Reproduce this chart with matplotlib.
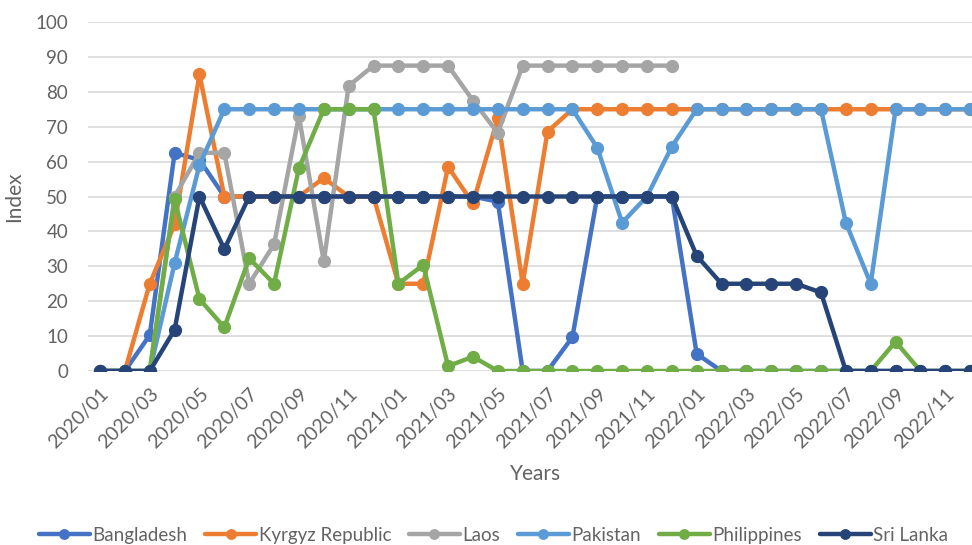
import matplotlib
matplotlib.use("Agg")
import matplotlib.pyplot as plt
from matplotlib import font_manager

# Monthly periods, 2020/01 .. 2022/12
months = [f"{y}/{m:02d}" for y in (2020, 2021, 2022) for m in range(1, 13)]

bangladesh = [0, 0, 10.3, 62.5, 60.5, 50, 50, 50, 50, 50, 50, 50,
              50, 50, 50, 50, 48.5, 0, 0, 9.7, 50, 50, 50, 50,
              4.9, 0, 0, 0, 0, 0, 0, 0, 0, 0, 0, 0]
kyrgyz = [0, 0, 25, 42, 85, 50, 50, 50, 50, 55.3, 50, 50,
          25, 25, 58.5, 48, 72.5, 25, 68.6, 75, 75, 75, 75, 75,
          75, 75, 75, 75, 75, 75, 75, 75, 75, 75, 75, 75]
laos = [0, 0, 0, 50, 62.5, 62.5, 25, 36.3, 73, 31.4, 81.7, 87.5,
        87.5, 87.5, 87.5, 77.5, 68.2, 87.5, 87.5, 87.5, 87.5, 87.5, 87.5, 87.5]
pakistan = [0, 0, 0, 30.9, 59, 75, 75, 75, 75, 75, 75, 75,
            75, 75, 75, 75, 75, 75, 75, 75, 64, 42.5, 50, 64.3,
            75, 75, 75, 75, 75, 75, 42.5, 25, 75, 75, 75, 75]
philippines = [0, 0, 0, 49.2, 20.6, 12.5, 32.3, 25, 58.1, 75, 75, 75,
               25, 30.4, 1.4, 4.1, 0, 0, 0, 0, 0, 0, 0, 0,
               0, 0, 0, 0, 0, 0, 0, 0, 8.4, 0, 0, 0]
sri_lanka = [0, 0, 0, 11.8, 50, 34.9, 50, 50, 50, 50, 50, 50,
             50, 50, 50, 50, 50, 50, 50, 50, 50, 50, 50, 50,
             33, 25, 25, 25, 25, 22.5, 0, 0, 0, 0, 0, 0]

series = [
    ("Bangladesh", bangladesh, "#4472C4"),
    ("Kyrgyz Republic", kyrgyz, "#ED7D31"),
    ("Laos", laos, "#A5A5A5"),
    ("Pakistan", pakistan, "#5B9BD5"),
    ("Philippines", philippines, "#70AD47"),
    ("Sri Lanka", sri_lanka, "#264478"),
]

available = {f.name for f in font_manager.fontManager.ttflist}
family = "Lato" if "Lato" in available else "DejaVu Sans"
plt.rcParams["font.family"] = [family, "DejaVu Sans"]
text_color = "#636363"

fig = plt.figure(figsize=(9.72, 5.45), dpi=100)
ax = fig.add_axes([87.6 / 972, 174 / 545, 895 / 972, 349 / 545])

for name, vals, color in series:
    ax.plot(range(len(vals)), vals, color=color, lw=3.2, marker="o",
            markersize=8.5, label=name, solid_capstyle="round",
            solid_joinstyle="round")

ax.set_xlim(-0.5, 35.5)
ax.set_ylim(0, 100)
ax.set_yticks(range(0, 101, 10))
ax.set_xticks(range(0, 36, 2))
ax.set_xticklabels(months[::2], rotation=45, ha="right",
                   rotation_mode="anchor", fontsize=14, color=text_color)
for lbl in ax.get_yticklabels():
    lbl.set_fontsize(13.5)
    lbl.set_color(text_color)
ax.tick_params(axis="y", length=0, pad=14)
ax.tick_params(axis="x", length=0, pad=10)

ax.grid(axis="y", color="#D9D9D9", lw=1.2)
ax.set_axisbelow(True)
for side in ("top", "right", "left", "bottom"):
    ax.spines[side].set_visible(False)

ax.set_xlabel("Years", fontsize=15, color=text_color, labelpad=9)
ax.set_ylabel("Index", fontsize=15, color=text_color, labelpad=8)

leg = fig.legend(loc="center", bbox_to_anchor=(0.508, 0.018), ncol=6,
                 frameon=False, fontsize=13.5, handlelength=2.7,
                 handletextpad=0.15, columnspacing=0.95, markerscale=0.8)
for t in leg.get_texts():
    t.set_color(text_color)

fig.savefig("out.png", dpi=100)
